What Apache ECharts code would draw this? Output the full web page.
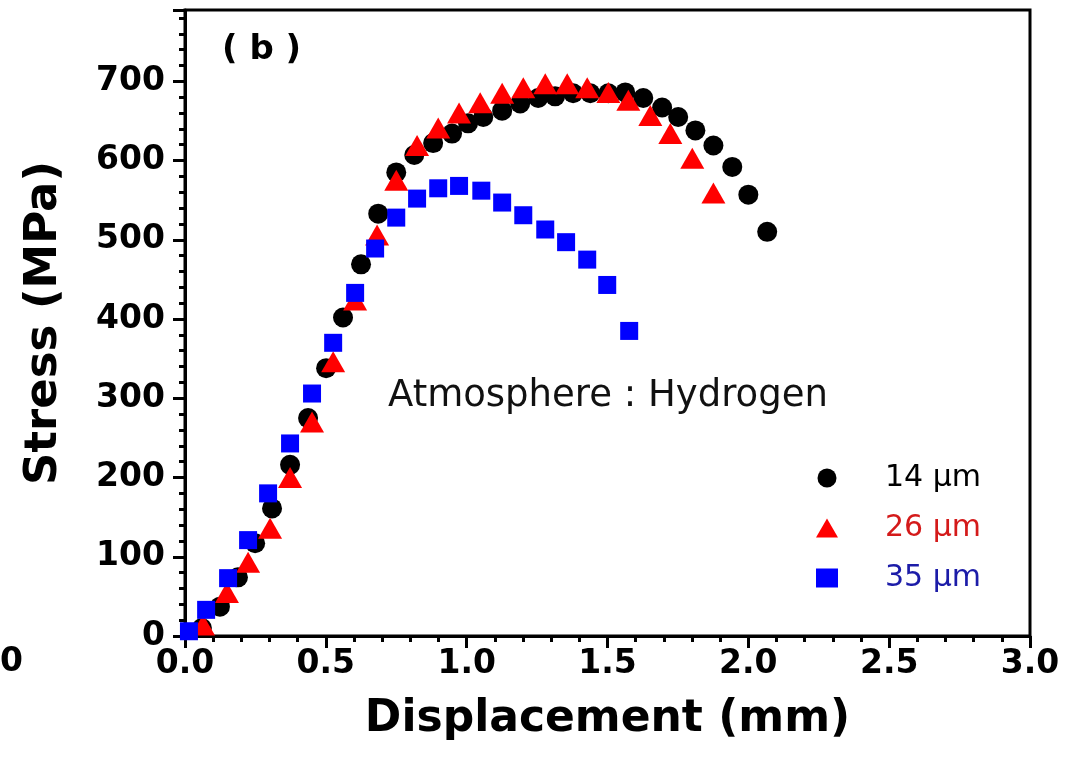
<!DOCTYPE html>
<html>
<head>
<meta charset="utf-8">
<script src="https://cdn.jsdelivr.net/npm/echarts@6/dist/echarts.min.js"></script>
<style>
  html, body { margin: 0; padding: 0; background: #fff; }
  #chart { width: 1073px; height: 761px; }
</style>
</head>
<body>
<div id="chart"></div>
<script>
// 14 um grain size
const disp14 = [0.06, 0.124, 0.188, 0.249, 0.309, 0.373, 0.437, 0.501, 0.561, 0.625, 0.686, 0.75,
  0.814, 0.881, 0.948, 1.005, 1.059, 1.126, 1.19, 1.254, 1.314, 1.378, 1.439, 1.503, 1.563,
  1.627, 1.694, 1.751, 1.812, 1.876, 1.943, 2.0, 2.067]
const stress14 = [10, 37, 74, 117, 161, 216, 275, 338, 402, 469, 533, 585,
  607, 622, 634, 647, 655, 663, 672, 679, 681, 685, 685, 685, 686,
  679, 667, 655, 638, 619, 592, 557, 510]

// 26 um grain size
const disp26 = [0.064, 0.149, 0.224, 0.302, 0.373, 0.451, 0.526, 0.604, 0.682, 0.75,
  0.824, 0.899, 0.973, 1.048, 1.126, 1.201, 1.279, 1.357, 1.428, 1.503, 1.574,
  1.652, 1.723, 1.801, 1.876]
const stress26 = [14, 55, 93, 136, 200, 270, 346, 424, 506, 575,
  619, 641, 660, 673, 685, 692, 697, 697, 692, 686, 676,
  657, 634, 603, 559]

// 35 um grain size
const disp35 = [0.014, 0.075, 0.153, 0.224, 0.295, 0.373, 0.451, 0.526, 0.604, 0.675, 0.75,
  0.824, 0.899, 0.973, 1.052, 1.126, 1.201, 1.279, 1.353, 1.428, 1.499, 1.577]
const stress35 = [6, 33, 73, 121, 180, 243, 306, 370, 433, 489, 528,
  552, 565, 568, 562, 547, 531, 513, 497, 475, 443, 385]

const seriesNames = ["14 \u03bcm", "26 \u03bcm", "35 \u03bcm"]
const markerColors = ["#000000", "#ff0000", "#0000ff"]
const legendColors = ["#000000", "#d41a1a", "#1c1ca8"]

const font = "DejaVu Sans"

function pairs(xs, ys) {
  return xs.map((x, i) => [x, ys[i]])
}

const chart = echarts.init(document.getElementById("chart"))
const option = {
  backgroundColor: "#fff",
  animation: false,
  grid: {
    left: 185,
    right: 43,
    top: 10,
    bottom: 125,
    show: true,
    borderColor: "#000",
    borderWidth: 3,
  },
  xAxis: {
    type: "value",
    min: 0,
    max: 3,
    interval: 0.5,
    name: "Displacement (mm)",
    nameLocation: "middle",
    nameGap: 62,
    nameTextStyle: { fontFamily: font, fontWeight: "bold", fontSize: 44, color: "#000" },
    axisLine: { show: true, lineStyle: { color: "#000", width: 3 } },
    axisTick: { show: true, inside: false, length: 12, lineStyle: { color: "#000", width: 3 } },
    minorTick: { show: true, splitNumber: 5, length: 6, lineStyle: { color: "#000", width: 3 } },
    splitLine: { show: false },
    axisLabel: {
      margin: 12,
      fontFamily: font,
      fontWeight: "bold",
      fontSize: 33,
      color: "#000",
      formatter: (v) => v.toFixed(1),
    },
  },
  yAxis: {
    type: "value",
    min: 0,
    max: 790,
    interval: 100,
    name: "Stress (MPa)",
    nameLocation: "middle",
    nameGap: 118,
    nameTextStyle: { fontFamily: font, fontWeight: "bold", fontSize: 45, color: "#000" },
    axisLine: { show: true, lineStyle: { color: "#000", width: 3 } },
    axisTick: { show: true, inside: false, length: 12, lineStyle: { color: "#000", width: 3 } },
    minorTick: { show: true, splitNumber: 5, length: 6, lineStyle: { color: "#000", width: 3 } },
    splitLine: { show: false },
    axisLabel: {
      margin: 20,
      fontFamily: font,
      fontWeight: "bold",
      fontSize: 33,
      color: "#000",
      formatter: (v) => (v % 100 === 0 ? String(v) : ""),
    },
  },
  legend: {
    orient: "vertical",
    left: 811,
    top: 457,
    itemWidth: 22,
    itemHeight: 19,
    itemGap: 18,
    data: seriesNames.map((n, i) => ({
      name: n,
      textStyle: { color: legendColors[i] },
    })),
    textStyle: {
      fontFamily: font,
      fontSize: 30,
      lineHeight: 32,
      padding: [0, 0, 0, 42],
    },
  },
  graphic: [
    {
      type: "text",
      left: 222,
      top: 33,
      style: { text: "( b )", font: "bold 34px 'DejaVu Sans'", fill: "#000" },
    },
    {
      type: "text",
      left: 388,
      top: 378,
      style: { text: "Atmosphere : Hydrogen", font: "37px 'DejaVu Sans'", fill: "#111" },
    },
    {
      type: "text",
      left: 0,
      top: 646,
      style: { text: "0", font: "bold 33px 'DejaVu Sans'", fill: "#000" },
    },
  ],
  series: [
    {
      name: seriesNames[0],
      type: "scatter",
      symbol: "circle",
      symbolSize: 20,
      itemStyle: { color: markerColors[0], opacity: 1 },
      data: pairs(disp14, stress14),
      z: 2,
    },
    {
      name: seriesNames[1],
      type: "scatter",
      symbol: "triangle",
      symbolSize: [24, 21],
      itemStyle: { color: markerColors[1], opacity: 1 },
      data: pairs(disp26, stress26),
      z: 3,
    },
    {
      name: seriesNames[2],
      type: "scatter",
      symbol: "rect",
      symbolSize: 18,
      itemStyle: { color: markerColors[2], opacity: 1 },
      data: pairs(disp35, stress35),
      z: 4,
    },
  ],
}
chart.setOption(option)
</script>
</body>
</html>
